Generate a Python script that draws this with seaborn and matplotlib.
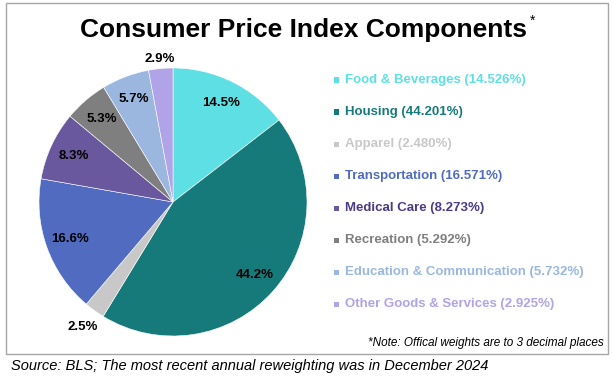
import matplotlib
matplotlib.use("Agg")
import matplotlib.pyplot as plt
import seaborn as sns
from matplotlib.patches import Rectangle

categories = ["Food & Beverages", "Housing", "Apparel", "Transportation",
              "Medical Care", "Recreation", "Education & Communication",
              "Other Goods & Services"]
weights = [14.526, 44.201, 2.480, 16.571, 8.273, 5.292, 5.732, 2.925]
colors = ["#5EDFE3", "#177A7A", "#C8C8C8", "#506BBF",
          "#6A589E", "#7F7F7F", "#9BB7E0", "#B0A3E8"]
label_colors = ["#5EDFE3", "#177A7A", "#C8C8C8", "#506BBF",
                "#4B3A8A", "#7F7F7F", "#9BB7E0", "#B0A3E8"]

sns.set_theme(style="white")
plt.rcParams["font.family"] = ["Liberation Sans", "DejaVu Sans"]
plt.rcParams["text.color"] = "black"

W, H = 614, 376
fig = plt.figure(figsize=(W / 100, H / 100), dpi=100)
fig.patch.set_facecolor("white")

# chart border
fig.patches.append(Rectangle((6 / W, 1 - 354 / H), 602 / W, 351 / H,
                             transform=fig.transFigure, fill=False,
                             edgecolor="#A6A6A6", linewidth=1.0))

# pie axes: center (173, 202) px, radius 134 px
cx, cy, r = 173, 202, 134
ax = fig.add_axes([(cx - r) / W, (H - cy - r) / H, 2 * r / W, 2 * r / H])
wedges, texts, autotexts = ax.pie(
    weights, colors=sns.color_palette(colors), startangle=90, counterclock=False,
    autopct="%.1f%%", pctdistance=0.82,
    wedgeprops=dict(edgecolor="white", linewidth=0.4),
    textprops=dict(fontsize=9.5, fontweight="bold", color="black"))
ax.set_xlim(-1, 1)
ax.set_ylim(-1, 1)

# small slices get labels outside
for i, d in [(2, 1.15), (7, 1.07)]:
    x, y = autotexts[i].get_position()
    scale = d / 0.82
    autotexts[i].set_position((x * scale, y * scale))

# title
fig.text(304 / W, 1 - 30 / H, "Consumer Price Index Components",
         ha="center", va="center", fontsize=19, fontweight="bold")
fig.text(530 / W, 1 - 21 / H, "*", ha="left", va="center", fontsize=10)

# legend
for i, (cat, w) in enumerate(zip(categories, weights)):
    y = 1 - (80 + 32 * i) / H
    fig.patches.append(Rectangle((334 / W, y - 2.5 / H), 5 / W, 5 / H,
                                 transform=fig.transFigure,
                                 facecolor=colors[i], edgecolor="none"))
    fig.text(345 / W, y, f"{cat} ({w:.3f}%)", ha="left", va="center",
             fontsize=9.5, fontweight="bold", color=label_colors[i])

fig.text(604 / W, 1 - 343 / H, "*Note: Offical weights are to 3 decimal places",
         ha="right", va="center", fontsize=8.5, style="italic")
fig.text(11 / W, 1 - 366 / H,
         "Source: BLS; The most recent annual reweighting was in December 2024",
         ha="left", va="center", fontsize=10.5, style="italic")

fig.savefig("out.png", dpi=100)
